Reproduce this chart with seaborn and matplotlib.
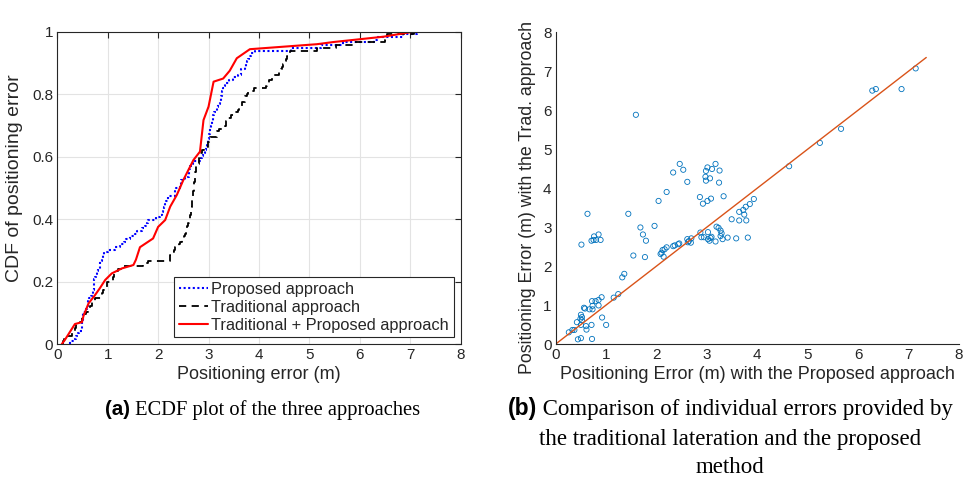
import numpy as np
import pandas as pd
import matplotlib
matplotlib.use("Agg")
import matplotlib.pyplot as plt
import seaborn as sns

# ---------------- data ----------------
# Scatter: positioning error with proposed approach (x) vs traditional approach (y)
err_proposed = [7.14, 6.28, 6.35, 6.86, 5.66, 5.24, 4.63, 1.59, 2.46, 3.17,
                2.33, 2.53, 3.01, 2.98, 2.97, 2.98, 3.06, 3.10, 3.25, 3.24,
                2.61, 2.20, 2.04, 2.86, 2.92, 3.01, 3.08, 3.33, 3.93, 3.85,
                3.77, 3.72, 3.64, 3.74, 3.49, 3.64, 3.78, 0.63, 1.44, 1.96,
                1.68, 1.73, 1.79, 1.54, 1.77, 0.51, 0.71, 0.76, 0.80, 0.85,
                0.89, 0.75, 3.19, 3.23, 3.27, 3.29, 3.27, 3.31, 3.41, 3.58,
                3.81, 3.02, 2.87, 2.89, 2.94, 3.02, 3.07, 3.05, 3.09, 3.17,
                2.61, 2.64, 2.68, 2.69, 2.62, 2.33, 2.36, 2.43, 2.45, 2.20,
                2.16, 2.12, 2.10, 2.08, 2.14, 1.36, 1.32, 1.24, 1.15, 0.91,
                0.85, 0.72, 0.79, 0.85, 0.73, 0.73, 0.67, 0.56, 0.58, 0.50,
                0.52, 0.49, 0.52, 0.42, 0.50, 0.60, 0.61, 0.71, 0.92, 1.00,
                0.26, 0.33, 0.37, 0.44, 0.50, 0.72]
err_traditional = [7.07, 6.50, 6.54, 6.54, 5.52, 5.16, 4.56, 5.88, 4.62, 4.62,
                   4.40, 4.47, 4.53, 4.44, 4.29, 4.19, 4.25, 4.49, 4.45, 4.14,
                   4.16, 3.90, 3.67, 3.77, 3.60, 3.67, 3.73, 3.79, 3.72, 3.59,
                   3.52, 3.44, 3.39, 3.32, 3.20, 3.17, 3.17, 3.34, 3.34, 3.03,
                   2.99, 2.81, 2.65, 2.27, 2.23, 2.55, 2.65, 2.76, 2.67, 2.81,
                   2.67, 2.67, 3.01, 2.98, 2.91, 2.84, 2.77, 2.69, 2.73, 2.71,
                   2.73, 2.87, 2.86, 2.74, 2.74, 2.69, 2.72, 2.65, 2.75, 2.63,
                   2.69, 2.64, 2.60, 2.71, 2.61, 2.51, 2.53, 2.56, 2.58, 2.48,
                   2.43, 2.41, 2.34, 2.31, 2.24, 1.80, 1.71, 1.28, 1.19, 1.20,
                   1.13, 1.10, 1.10, 0.99, 0.98, 0.89, 0.89, 0.93, 0.91, 0.75,
                   0.69, 0.65, 0.61, 0.56, 0.49, 0.46, 0.37, 0.49, 0.68, 0.49,
                   0.30, 0.36, 0.36, 0.12, 0.15, 0.13]

# Traditional + Proposed: CDF curve points
comb_err = [0.09, 0.15, 0.35, 0.49, 0.52, 0.62, 0.75, 0.85, 0.95, 1.08,
            1.28, 1.51, 1.56, 1.64, 1.90, 2.00, 2.14, 2.24, 2.37, 2.50,
            2.70, 2.83, 2.90, 3.00, 3.10, 3.29, 3.42, 3.56, 3.82, 5.15,
            5.48, 6.47, 7.06]
comb_cdf = [0.0, 0.013, 0.064, 0.07, 0.09, 0.13, 0.157, 0.18, 0.205, 0.226,
            0.242, 0.253, 0.27, 0.31, 0.338, 0.375, 0.397, 0.44, 0.477, 0.525,
            0.589, 0.616, 0.717, 0.76, 0.84, 0.85, 0.875, 0.915, 0.944, 0.96,
            0.967, 0.984, 1.0]

# reference line y = x
ref_line = [0.0, 7.35]

ticks8 = [0, 1, 2, 3, 4, 5, 6, 7, 8]
cdf_ticks = [0, 0.2, 0.4, 0.6, 0.8, 1]
cdf_ticklabels = ["0", "0.2", "0.4", "0.6", "0.8", "1"]

# ---------------- style ----------------
sns.set_style("white")
plt.rcParams["font.family"] = ["Liberation Sans", "DejaVu Sans"]
axcol = "#262626"
plt.rcParams.update({
    "axes.edgecolor": axcol, "xtick.color": axcol, "ytick.color": axcol,
    "axes.labelcolor": axcol, "text.color": axcol,
    "xtick.direction": "in", "ytick.direction": "in",
    "xtick.major.size": 4, "ytick.major.size": 4,
    "xtick.major.width": 0.8, "ytick.major.width": 0.8,
    "axes.linewidth": 0.8,
})

fig = plt.figure(figsize=(9.69, 4.87), dpi=100)
ax1 = fig.add_axes([0.0591, 0.2936, 0.4163, 0.6413])
ax2 = fig.add_axes([0.5735, 0.2936, 0.4162, 0.6404])

# ---------------- left: ECDF ----------------
sns.ecdfplot(x=err_proposed, ax=ax1, color="#0000FF", linestyle=(0, (1, 1.2)),
             linewidth=1.5, label="Proposed approach")
sns.ecdfplot(x=err_traditional, ax=ax1, color="black", linestyle=(0, (4, 3)),
             linewidth=1.3, label="Traditional approach")
sns.lineplot(x=comb_err, y=comb_cdf, ax=ax1, color="#FF0000", linewidth=1.5,
             sort=False, estimator=None, label="Traditional + Proposed approach")
ax1.set_xlim(0, 8)
ax1.set_ylim(0, 1)
ax1.set_xticks(ticks8)
ax1.set_yticks(cdf_ticks)
ax1.set_yticklabels(cdf_ticklabels)
ax1.grid(True, color="#e3e3e3", linewidth=0.8)
ax1.set_axisbelow(True)
for s in ax1.spines.values():
    s.set_visible(True)
ax1.tick_params(labelsize=11, top=True, right=True, pad=3)
ax1.set_xlabel("Positioning error (m)", fontsize=13, labelpad=3)
ax1.set_ylabel("CDF of positioning error", fontsize=14)
ax1.yaxis.set_label_coords(-0.086, 0.53)
leg = ax1.legend(loc="lower right", fontsize=11.8, frameon=True, fancybox=False,
                 edgecolor=axcol, framealpha=1, handlelength=1.8,
                 handletextpad=0.2, borderpad=0.3, labelspacing=0.18,
                 borderaxespad=0.4)
leg.get_frame().set_linewidth(0.8)

# ---------------- right: scatter ----------------
sns.scatterplot(x=err_proposed, y=err_traditional, ax=ax2, marker="o",
                facecolor="none", edgecolor="#0072BD", linewidth=0.6, s=14)
sns.lineplot(x=ref_line, y=ref_line, ax=ax2, color="#D95319", linewidth=1.0)
ax2.set_xlim(0, 8)
ax2.set_ylim(0, 8)
ax2.set_xticks(ticks8)
ax2.set_yticks(ticks8)
ax2.spines["top"].set_visible(False)
ax2.spines["right"].set_visible(False)
ax2.tick_params(labelsize=11, pad=3)
ax2.set_xlabel("Positioning Error (m) with the Proposed approach", fontsize=13, labelpad=3)
ax2.set_ylabel("Positioning Error (m) with the Trad. approach", fontsize=12.8)
ax2.yaxis.set_label_coords(-0.048, 0.47)

# ---------------- captions ----------------
serif = ["Liberation Serif", "DejaVu Serif"]
bold_sans = ["Liberation Sans Narrow", "Liberation Sans"]

def caption(tag, text, xc, y, fs):
    t1 = fig.text(0, y, tag, fontsize=fs, fontweight="bold", family=bold_sans,
                  ha="left", va="baseline", color="black")
    t2 = fig.text(0, y, " " + text, fontsize=fs, family=serif,
                  ha="left", va="baseline", color="black")
    fig.canvas.draw()
    r = fig.canvas.get_renderer()
    w1 = t1.get_window_extent(r).width / fig.bbox.width
    w2 = t2.get_window_extent(r).width / fig.bbox.width
    x0 = xc - (w1 + w2) / 2
    t1.set_x(x0)
    t2.set_x(x0 + w1)

caption("(a)", "ECDF plot of the three approaches", 0.2710, 1 - 415 / 487, 14.8)
caption("(b)", "Comparison of individual errors provided by", 0.7535, 1 - 415 / 487, 16.5)
fig.text(0.7535, 1 - 445 / 487, "the traditional lateration and the proposed",
         fontsize=16.5, family=serif, ha="center", va="baseline", color="black")
fig.text(0.7535, 1 - 473 / 487, "method",
         fontsize=16.5, family=serif, ha="center", va="baseline", color="black")

fig.savefig("out.png", dpi=100)
